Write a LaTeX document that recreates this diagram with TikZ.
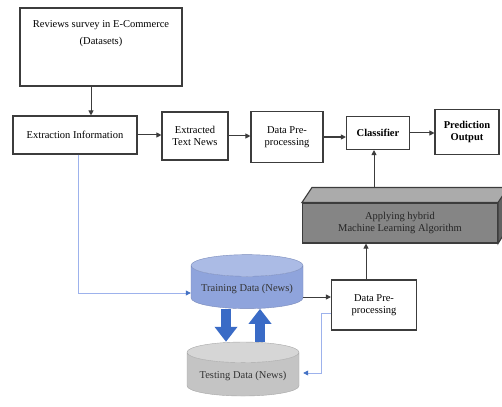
\documentclass[tikz,border=0pt]{standalone}
\usepackage{fontspec}
\setmainfont{Liberation Serif}
\usetikzlibrary{arrows.meta,shapes.geometric}
\definecolor{boxline}{HTML}{3C3C3C}
\definecolor{lineblue}{HTML}{9DB2EC}
\definecolor{tipblue}{HTML}{4472C4}
\definecolor{trainblue}{HTML}{8FA4DC}
\definecolor{testgray}{HTML}{C4C4C4}
\definecolor{blockblue}{HTML}{3A6BC6}
\tikzset{
  box/.style={draw=boxline, line width=1.1pt, fill=white, align=center, inner sep=2pt, font=\fontsize{10.5}{12}\selectfont},
  arr/.style={draw=boxline, line width=1pt, -{Triangle[length=5pt,width=5pt]}},
  bluearr/.style={draw=lineblue, line width=0.8pt, -{Triangle[length=5pt,width=5pt,color=tipblue]}},
  blockarr/.style={draw=blockblue, line width=10pt, -{Triangle[length=15pt,width=22pt]}},
  db/.style={cylinder, shape border rotate=90, aspect=0.22, minimum width=112pt, minimum height=54pt, cylinder uses custom fill, font=\fontsize{10.5}{12}\selectfont, text=black!80}
}
\begin{document}
\begin{tikzpicture}[x=1pt,y=-1pt]
\clip (0,0) rectangle (502,406);
\node[box, minimum width=162pt, minimum height=78pt] (reviews) at (101,47){};
\node[font=\fontsize{10.5}{17}\selectfont, align=center, anchor=north] (reviewstxt) at ([yshift=-10pt]reviews.north){Reviews survey in E-Commerce\\(Datasets)};
\node[box, minimum width=124pt, minimum height=38pt] (extract) at (75,135){Extraction Information};
\node[box, minimum width=66pt, minimum height=48pt] (extracted) at (195,136){Extracted\\Text News};
\node[box, minimum width=72pt, minimum height=51pt] (prep1) at (287,137){Data Pre-\\processing};
\node[box, minimum width=63pt, minimum height=33pt, font=\fontsize{10.5}{12}\selectfont\bfseries] (classifier) at (378,133){Classifier};
\node[box, minimum width=64pt, minimum height=45pt, font=\fontsize{10.5}{12}\selectfont\bfseries] (predict) at (467,132){Prediction\\Output};
\node[box, fill=black!48, minimum width=195pt, minimum height=40pt, text=black!85] (hybrid) at (400,223){Applying hybrid\\Machine Learning Algorithm};
\draw[draw=boxline, line width=1.1pt, fill=black!33] (hybrid.north west) -- ++(10,-15) -- ++(205,0) -- (hybrid.north east) -- cycle;
\draw[draw=boxline, line width=1.1pt, fill=black!62] (hybrid.north east) -- ++(10,-15) -- ++(0,40) -- (hybrid.south east) -- cycle;
\coordinate (hybtop) at (374,188);
\node[box, minimum width=85pt, minimum height=50pt] (prep2) at (374,305){Data Pre-\\processing};
\node[db, draw=trainblue!85!black, cylinder body fill=trainblue, cylinder end fill=trainblue!75!white] (train) at (247,289){Training Data (News)};
\node[db, draw=testgray!85!black, cylinder body fill=testgray, cylinder end fill=testgray!70!white] (test) at (243,376){Testing Data (News)};
\draw[arr] ([xshift=-10pt]reviews.south) -- ([xshift=-10pt]reviews.south |- extract.north);
\draw[arr] (extract.east) -- (extract.east -| extracted.west);
\draw[arr] (extracted.east) -- (extracted.east -| prep1.west);
\draw[arr] (prep1.east) -- (prep1.east -| classifier.west);
\draw[arr] (classifier.east) -- (classifier.east -| predict.west);
\draw[arr] (hybtop) -- (hybtop |- classifier.south);
\draw[arr] ([xshift=-8pt]prep2.north) -- ([xshift=-8pt]prep2.north |- hybrid.south);
\draw[arr] ([yshift=-8pt]train.east) -- ([yshift=-8pt]train.east -| prep2.west);
\draw[bluearr] ([xshift=3pt]extract.south) |- ([yshift=-4pt]train.west);
\draw[bluearr, shorten >=4pt] ([yshift=-8pt]prep2.west) -- ++(-10,0) |- ([yshift=3pt]test.east);
\draw[blockarr] ([xshift=-21pt]train.south) -- ([xshift=-21pt]train.south |- test.north);
\draw[blockarr] ([xshift=17pt]test.north) -- ([xshift=17pt]test.north |- train.south);
\end{tikzpicture}
\end{document}
